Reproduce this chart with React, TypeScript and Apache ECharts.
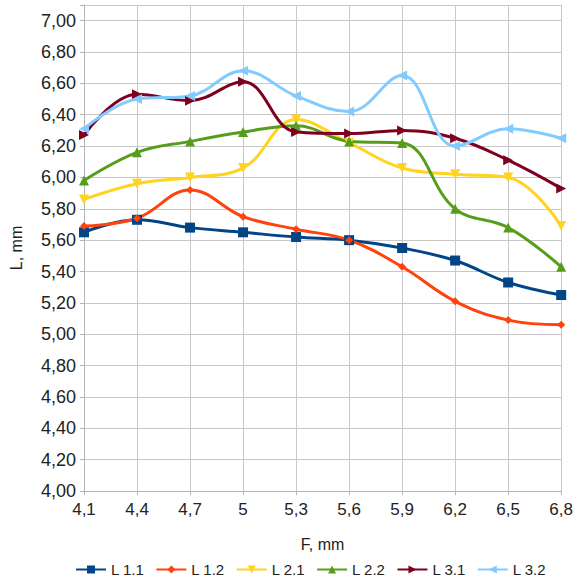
import React, { useEffect, useRef } from "react";
import * as echarts from "echarts";

const categories = ["4,1", "4,4", "4,7", "5", "5,3", "5,6", "5,9", "6,2", "6,5", "6,8"];
const seriesNames = ["L 1.1", "L 1.2", "L 2.1", "L 2.2", "L 3.1", "L 3.2"];
const l11 = [5.65, 5.73, 5.68, 5.65, 5.62, 5.6, 5.55, 5.47, 5.33, 5.25];
const l12 = [5.69, 5.74, 5.92, 5.75, 5.67, 5.6, 5.43, 5.21, 5.09, 5.06];
const l21 = [5.86, 5.96, 6.0, 6.06, 6.37, 6.22, 6.06, 6.02, 6.0, 5.69];
const l22 = [5.98, 6.16, 6.23, 6.29, 6.33, 6.23, 6.22, 5.8, 5.68, 5.43];
const l31 = [6.27, 6.53, 6.49, 6.61, 6.29, 6.28, 6.3, 6.25, 6.11, 5.93];
const l32 = [6.31, 6.5, 6.52, 6.68, 6.52, 6.42, 6.65, 6.2, 6.31, 6.25];
const seriesData = [l11, l12, l21, l22, l31, l32];
const colors = ["#004586", "#ff420e", "#ffd320", "#579d1c", "#7e0021", "#83caff"];
const symbols = ["rect", "diamond", "triangle", "triangle", "triangle", "triangle"];
const rotations = [0, 0, 180, 0, -90, 90];
const sizes = [10, 8, 10, 10, 10, 10];

const FONT = "'Liberation Sans', Arial, sans-serif";

export default function App() {
  const ref = useRef<HTMLDivElement>(null);
  useEffect(() => {
    if (!ref.current) return;
    const chart = echarts.init(ref.current, undefined, { renderer: "svg" });
    chart.setOption({
      animation: false,
      backgroundColor: "#ffffff",
      textStyle: { fontFamily: FONT },
      grid: { left: 83, right: 11, top: 5, bottom: 94, containLabel: false },
      legend: {
        bottom: 3,
        left: 70,
        itemWidth: 30,
        itemHeight: 10,
        itemGap: 11,
        textStyle: { fontFamily: FONT, fontSize: 15, color: "#222" },
        data: seriesNames,
      },
      xAxis: {
        type: "category",
        data: categories,
        boundaryGap: false,
        name: "F, mm",
        nameLocation: "middle",
        nameGap: 45,
        nameTextStyle: { fontFamily: FONT, fontSize: 16, color: "#222" },
        axisLine: { lineStyle: { color: "#b3b3b3" } },
        axisTick: { show: true, alignWithLabel: true, length: 4, lineStyle: { color: "#b3b3b3" } },
        axisLabel: { fontFamily: FONT, fontSize: 17, color: "#222", margin: 10 },
        splitLine: { show: true, lineStyle: { color: "#c8c8c8", width: 1 } },
      },
      yAxis: {
        type: "value",
        min: 4,
        max: 7.1,
        interval: 0.2,
        name: "L, mm",
        nameLocation: "middle",
        nameRotate: 90,
        nameGap: 60,
        nameTextStyle: { fontFamily: FONT, fontSize: 16, color: "#222" },
        axisLine: { show: true, lineStyle: { color: "#b3b3b3" } },
        axisTick: { show: true, length: 4, lineStyle: { color: "#b3b3b3" } },
        axisLabel: {
          fontFamily: FONT,
          fontSize: 18,
          color: "#222",
          margin: 8,
          formatter: (v: number) => {
            const k = Math.round(v * 100);
            if (k % 20 !== 0 || v > 7.001) return "";
            return v.toFixed(2).replace(".", ",");
          },
        },
        splitLine: { show: true, lineStyle: { color: "#c8c8c8", width: 1 } },
      },
      series: seriesNames.map((name, i) => ({
        name,
        type: "line",
        data: seriesData[i],
        smooth: 0.4,
        symbol: symbols[i],
        symbolRotate: rotations[i],
        symbolSize: sizes[i],
        color: colors[i],
        lineStyle: { width: 3, color: colors[i] },
        itemStyle: { color: colors[i] },
      })),
    });
    return () => chart.dispose();
  }, []);
  return (
    <div
      ref={ref}
      style={{ position: "absolute", left: 0, top: 0, width: 576, height: 585 }}
    />
  );
}
